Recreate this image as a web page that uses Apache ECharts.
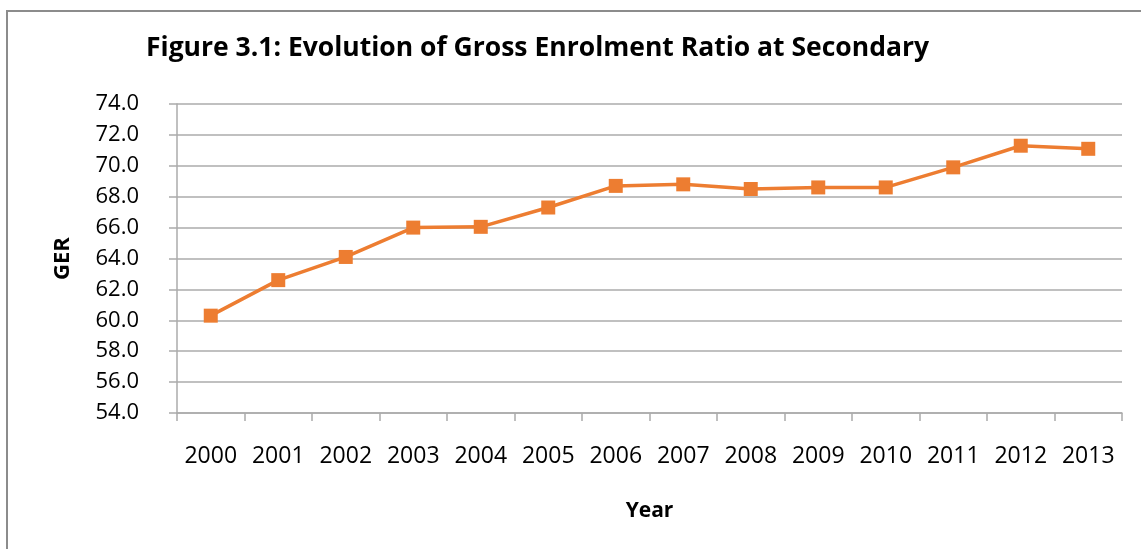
<!DOCTYPE html>
<html>
<head>
<meta charset="utf-8">
<style>
html, body { margin: 0; padding: 0; background: #fff; }
#chart { width: 1141px; height: 549px; }
</style>
</head>
<body>
<div id="chart"></div>
<script src="https://cdn.jsdelivr.net/npm/echarts@6/dist/echarts.min.js"></script>
<script>
// data
var years = ['2000', '2001', '2002', '2003', '2004', '2005', '2006', '2007', '2008', '2009', '2010', '2011', '2012', '2013'];
var ger = [60.3, 62.6, 64.1, 66.0, 66.05, 67.3, 68.7, 68.8, 68.5, 68.6, 68.6, 69.9, 71.3, 71.1];
var yMin = 54, yMax = 74, yStep = 2;

var font = '"Open Sans", "Liberation Sans", sans-serif';
var gridGrey = '#ababab';

var myChart = echarts.init(document.getElementById('chart'));

var option = {
    backgroundColor: '#fff',
    animation: false,
    title: {
        text: 'Figure 3.1: Evolution of Gross Enrolment Ratio at Secondary',
        left: 141,
        top: 30,
        textStyle: { fontFamily: font, fontSize: 26.5, fontWeight: 'bold', color: '#000' }
    },
    graphic: [{
        // outer frame of the figure (runs off the right and bottom edges)
        type: 'rect',
        shape: { x: 7, y: 11, width: 1160, height: 600 },
        style: { fill: 'none', stroke: '#8c8c8c', lineWidth: 2 },
        silent: true
    }],
    grid: { left: 177, top: 104, right: 19, bottom: 136 },
    xAxis: {
        type: 'category',
        data: years,
        boundaryGap: true,
        name: 'Year',
        nameLocation: 'middle',
        nameGap: 88,
        nameTextStyle: { fontFamily: font, fontSize: 21, fontWeight: 'bold', color: '#000' },
        axisLine: { lineStyle: { color: gridGrey, width: 1.5 } },
        axisTick: { show: true, interval: 0, length: 8, lineStyle: { color: gridGrey, width: 1.5 } },
        axisLabel: { interval: 0, fontFamily: font, fontSize: 23, color: '#000', margin: 32 }
    },
    yAxis: {
        type: 'value',
        min: yMin,
        max: yMax,
        interval: yStep,
        name: 'GER',
        nameLocation: 'middle',
        nameGap: 103,
        nameRotate: 90,
        nameTextStyle: { fontFamily: font, fontSize: 22, fontWeight: 'bold', color: '#000' },
        axisLine: { show: true, lineStyle: { color: gridGrey, width: 1.5 } },
        axisTick: { show: true, length: 8, lineStyle: { color: gridGrey, width: 1.5 } },
        splitLine: { lineStyle: { color: gridGrey, width: 1.5 } },
        axisLabel: {
            fontFamily: font, fontSize: 22, color: '#000', margin: 38,
            formatter: function (v) { return v.toFixed(1); }
        }
    },
    series: [{
        type: 'line',
        data: ger,
        symbol: 'rect',
        symbolSize: 14,
        itemStyle: { color: '#ed7d31' },
        lineStyle: { color: '#ed7d31', width: 3.5 }
    }]
};

myChart.setOption(option);
</script>
</body>
</html>
